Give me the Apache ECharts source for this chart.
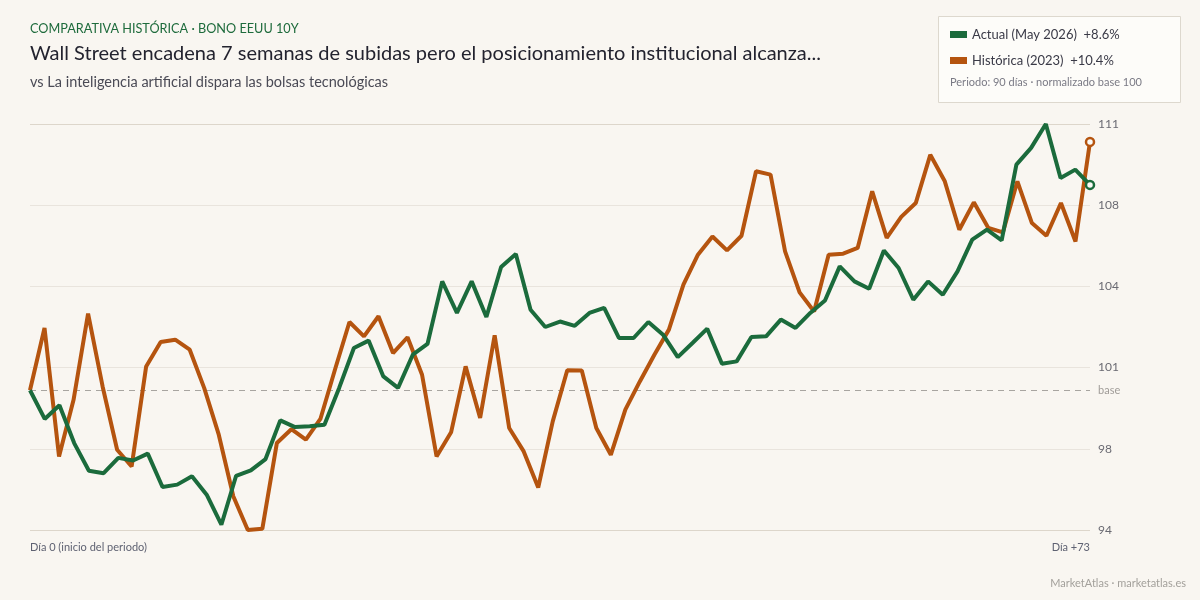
<!DOCTYPE html>
<html>
<head>
<meta charset="utf-8">
<script src="https://cdn.jsdelivr.net/npm/echarts@6/dist/echarts.min.js"></script>
<style>
  html, body { margin: 0; padding: 0; background: #f9f6f1; }
  #chart { width: 1200px; height: 600px; }
</style>
</head>
<body>
<div id="chart"></div>
<script>
// Actual (May 2026) - 73 samples over the 73-day window
const actual = [
  100.0, 98.8, 99.37, 97.79, 96.63, 96.53, 97.17, 97.06, 97.35, 95.95,
  96.05, 96.4, 95.63, 94.37, 96.42, 96.65, 97.12, 98.74, 98.46, 98.49,
  98.56, 100.1, 101.77, 102.08, 100.58, 100.1, 101.49, 101.94, 104.56, 103.24,
  104.56, 103.07, 105.16, 105.71, 103.37, 102.65, 102.88, 102.7, 103.24, 103.45,
  102.19, 102.19, 102.86, 102.33, 101.39, 101.98, 102.58, 101.11, 101.21, 102.23,
  102.26, 102.96, 102.61, 103.24, 103.76, 105.19, 104.56, 104.25, 105.85, 105.12,
  103.79, 104.56, 104.0, 104.98, 106.31, 106.73, 106.28, 109.45, 110.15, 111.15,
  108.89, 109.24, 108.6
];
// Histórica (2023) - 74 samples, days 0..73
const historic = [
  100.0, 102.61, 97.23, 99.6, 103.21, 100.16, 97.51, 96.81, 101.0, 102.02,
  102.12, 101.7, 100.09, 98.14, 95.56, 94.15, 94.2, 97.79, 98.37, 97.93,
  98.8, 100.86, 102.86, 102.26, 103.1, 101.56, 102.22, 100.65, 97.23, 98.24,
  101.0, 98.84, 102.3, 98.42, 97.44, 95.93, 98.7, 100.84, 100.83, 98.42,
  97.3, 99.19, 100.37, 101.49, 102.54, 104.42, 105.68, 106.44, 105.86, 106.47,
  109.17, 109.03, 105.82, 104.1, 103.3, 105.68, 105.72, 105.96, 108.33, 106.38,
  107.26, 107.84, 109.86, 108.75, 106.72, 107.87, 106.8, 106.61, 108.75, 107.0,
  106.47, 107.84, 106.23, 110.4
];
const seriesNames = ['Actual (May 2026)', 'Histórica (2023)'];
const yTickLabels = ['94', '98', '101', '104', '108', '111'];
const baseValue = 100;

const GREEN = '#1b6b3c';
const ORANGE = '#b5540f';
const FONT = 'Lato, "Noto Sans", sans-serif';

const histDays = historic.map((_, i) => i);
const actDays = actual.map((_, i) => i);

const yMin = Math.min(...actual, ...historic);
const yMax = Math.max(...actual, ...historic);
const yStep = (yMax - yMin) / (yTickLabels.length - 1);

const pct = arr => {
  const p = arr[arr.length - 1] - baseValue;
  return (p >= 0 ? '+' : '') + p.toFixed(1) + '%';
};
const pctByName = {};
pctByName[seriesNames[0]] = pct(actual);
pctByName[seriesNames[1]] = pct(historic);

function withEndMarker(arr, color) {
  return arr.map((v, i) => i === arr.length - 1
    ? {value: v, symbol: 'circle', symbolSize: 8,
       itemStyle: {color: '#fbfaf7', borderColor: color, borderWidth: 2.5}}
    : {value: v, symbol: 'none'});
}

const gridLines = yTickLabels.map((lab, k) => ({
  yAxis: yMin + k * yStep,
  label: {formatter: lab},
  lineStyle: {color: (k === 0 || k === yTickLabels.length - 1) ? '#ddd6cb' : '#e9e4dd'}
}));
gridLines.push({
  yAxis: baseValue,
  label: {formatter: 'base', color: '#a09c98', fontSize: 11},
  lineStyle: {color: '#a8a5a0', type: [6, 5], width: 1}
});

const chart = echarts.init(document.getElementById('chart'));
chart.setOption({
  backgroundColor: '#f9f6f1',
  animation: false,
  textStyle: {fontFamily: FONT},
  grid: {left: 30, right: 110, top: 124, bottom: 70},
  title: [
    {text: 'COMPARATIVA HISTÓRICA · BONO EEUU 10Y', left: 25, top: 17,
     textStyle: {fontFamily: FONT, fontSize: 12.7, fontWeight: 'normal', color: '#1e6b3c'}},
    {text: 'Wall Street encadena 7 semanas de subidas pero el posicionamiento institucional alcanza...',
     left: 25, top: 39,
     textStyle: {fontFamily: FONT, fontSize: 20, fontWeight: 'normal', color: '#23232f'}},
    {text: 'vs La inteligencia artificial dispara las bolsas tecnológicas', left: 25, top: 70,
     textStyle: {fontFamily: FONT, fontSize: 14.5, fontWeight: 'normal', color: '#4a4a55'}},
    {text: 'MarketAtlas · marketatlas.es', right: 9, top: 573,
     textStyle: {fontFamily: FONT, fontSize: 11, fontWeight: 'normal', color: '#a3a09b'}}
  ],
  graphic: [
    {type: 'rect', left: 938, top: 16, z: 0,
     shape: {width: 242, height: 86},
     style: {fill: '#fdfcf9', stroke: '#ddd8ce', lineWidth: 1}},
    {type: 'text', left: 950, top: 77, z: 1,
     style: {text: 'Periodo: 90 días · normalizado base 100', fill: '#7a7a85',
             font: '11px ' + FONT}}
  ],
  legend: {
    orient: 'vertical', left: 945, top: 23,
    icon: 'rect', itemWidth: 17, itemHeight: 7, itemGap: 13,
    data: seriesNames,
    formatter: name => name + '  ' + pctByName[name],
    textStyle: {fontFamily: FONT, fontSize: 13, color: '#3a3a47'},
    selectedMode: false
  },
  xAxis: [
    {type: 'category', data: histDays, boundaryGap: false,
     axisLine: {show: false}, axisTick: {show: false}, splitLine: {show: false},
     axisLabel: {
       interval: 0, margin: 12, fontSize: 11, color: '#5f6272', fontFamily: FONT,
       alignMinLabel: 'left', alignMaxLabel: 'right',
       formatter: (v, i) => i === 0 ? 'Día 0 (inicio del periodo)'
         : (i === histDays.length - 1 ? 'Día +' + v : '')
     }},
    {type: 'category', data: actDays, boundaryGap: false, show: false}
  ],
  yAxis: {
    type: 'value', min: yMin, max: yMax, position: 'right',
    axisLine: {show: false}, axisTick: {show: false},
    axisLabel: {show: false}, splitLine: {show: false}
  },
  series: [
    {
      name: seriesNames[0], type: 'line', xAxisIndex: 1, z: 3,
      data: withEndMarker(actual, GREEN),
      lineStyle: {color: GREEN, width: 4},
      itemStyle: {color: GREEN},
      emphasis: {disabled: true}
    },
    {
      name: seriesNames[1], type: 'line', xAxisIndex: 0, z: 2,
      data: withEndMarker(historic, ORANGE),
      lineStyle: {color: ORANGE, width: 4},
      itemStyle: {color: ORANGE},
      emphasis: {disabled: true},
      markLine: {
        silent: true, symbol: 'none', z: 1,
        lineStyle: {type: 'solid', width: 1},
        label: {position: 'end', distance: 8, fontSize: 12, color: '#6a6a72', fontFamily: FONT},
        data: gridLines
      }
    }
  ]
});
</script>
</body>
</html>
